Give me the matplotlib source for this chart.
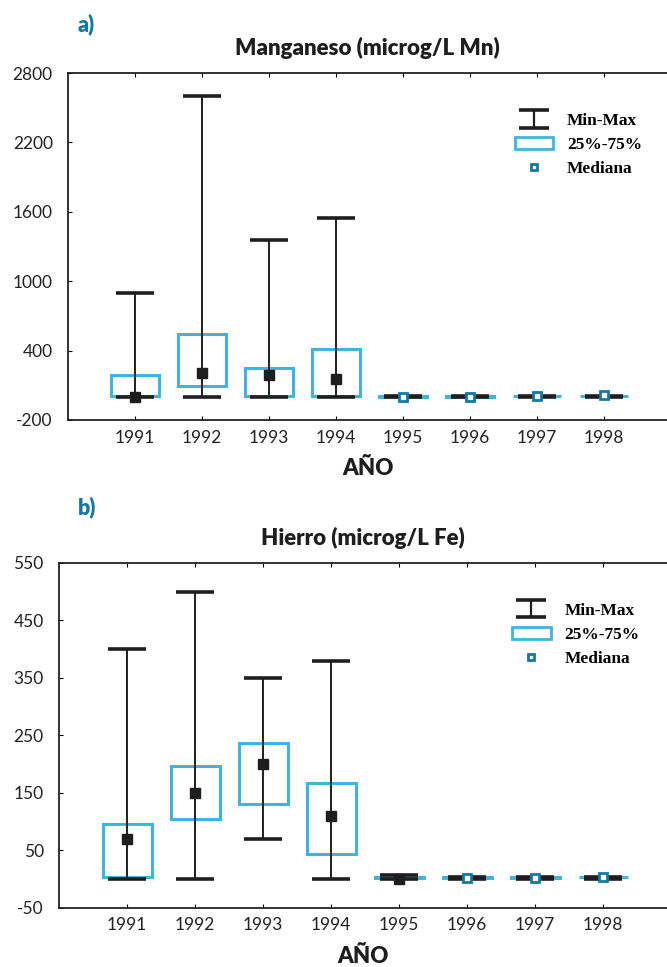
import numpy as np
import matplotlib
matplotlib.use("Agg")
import matplotlib.pyplot as plt
from matplotlib.patches import Rectangle
from matplotlib.lines import Line2D

plt.rcParams["axes.unicode_minus"] = False

years = ["1991", "1992", "1993", "1994", "1995", "1996", "1997", "1998"]

# manganeso (microg/L Mn)
mn_min = [0, 0, 0, 0, 0, 0, 0, 0]
mn_max = [900, 2600, 1360, 1550, 5, 5, 5, 5]
mn_q25 = [5, 90, 5, 5, 2, 2, 3, 3]
mn_q75 = [190, 540, 250, 415, 8, 8, 10, 10]
mn_med = [0, 210, 190, 155, 0, 0, 10, 15]

# hierro (microg/L Fe)
fe_min = [0, 0, 70, 0, 0, 0, 0, 0]
fe_max = [400, 500, 350, 380, 6, 4, 3, 3]
fe_q25 = [4, 104, 130, 44, 1, 2, 2, 3]
fe_q75 = [95, 197, 236, 166, 4, 4, 3, 4]
fe_med = [70, 150, 200, 109, 0, 2, 1, 3]

BOX_C = "#3db5e0"
MED_C = "#1478a3"
LAB_C = "#1577a6"
TICK_FONT = "Lato"

fig = plt.figure(figsize=(6.67, 9.67), dpi=100)
ax1 = fig.add_axes([0.102, 0.5657, 0.898, 0.3588])
ax2 = fig.add_axes([0.0885, 0.0615, 0.9115, 0.3563])


def draw_panel(ax, lo, hi, q25, q75, med, ylim, yticks, title, black_lim):
    x = np.arange(1, len(years) + 1)
    lo = np.array(lo, float)
    hi = np.array(hi, float)
    med = np.array(med, float)
    q25 = np.array(q25, float)
    q75 = np.array(q75, float)

    ax.bar(x, q75 - q25, bottom=q25, width=0.72, fill=False,
           edgecolor=BOX_C, linewidth=2.2, zorder=2)
    mid = (lo + hi) / 2
    ax.errorbar(x, mid, yerr=(hi - lo) / 2, fmt="none",
                ecolor="#1e1e1e", elinewidth=1.4, capsize=14, capthick=2.6,
                zorder=3)
    big = (hi - lo) > black_lim
    ax.plot(x[big], med[big], "s", ms=6.5, mfc="#1e1e1e", mec="#1e1e1e",
            zorder=4)
    ax.plot(x[~big], med[~big], "s", ms=6, mfc="white", mec=MED_C, mew=2,
            zorder=4)

    ax.set_xlim(0, 8.94)
    ax.set_ylim(*ylim)
    ax.set_yticks(yticks)
    ax.set_xticks(x)
    ax.set_xticklabels(years)
    ax.spines["right"].set_visible(False)
    for s in ["left", "top", "bottom"]:
        ax.spines[s].set_linewidth(1.3)
        ax.spines[s].set_color("#222222")
    ax.tick_params(axis="x", direction="in", top=True, length=3,
                   labelsize=12.5, pad=7)
    ax.tick_params(axis="y", direction="in", length=3, labelsize=12.5,
                   pad=11)
    for lab in ax.get_xticklabels() + ax.get_yticklabels():
        lab.set_family(TICK_FONT)
        lab.set_color("#222222")
    ax.set_title(title, fontsize=16, fontweight="heavy", family="Lato",
                 pad=13, color="#1e1e1e")
    ax.set_xlabel("AÑO", fontsize=16, fontweight="heavy", family="Lato",
                  labelpad=9, color="#1e1e1e")

    h_mm = ax.errorbar([np.nan], [np.nan], yerr=[[1], [1]], fmt="none",
                       ecolor="#1e1e1e", elinewidth=1.6, capsize=11,
                       capthick=2.6)
    h_box = Rectangle((0, 0), 1, 1, fill=False, edgecolor=BOX_C, lw=2)
    h_med = Line2D([], [], ls="none", marker="s", ms=5, mfc="white",
                   mec=MED_C, mew=2)
    ax.legend([h_mm, h_box, h_med], ["Min-Max", "25%-75%", "Mediana"],
              loc="upper left", bbox_to_anchor=(0.72, 0.93), frameon=False,
              prop={"family": "Liberation Serif", "weight": "bold",
                    "size": 12.5},
              handlelength=2.2, handletextpad=0.8, labelspacing=0.45)


draw_panel(ax1, mn_min, mn_max, mn_q25, mn_q75, mn_med, (-200, 2800),
           [-200, 400, 1000, 1600, 2200, 2800], "Manganeso (microg/L Mn)", 30)
draw_panel(ax2, fe_min, fe_max, fe_q25, fe_q75, fe_med, (-50, 550),
           [-50, 50, 150, 250, 350, 450, 550], "Hierro (microg/L Fe)", 5)

fig.text(0.116, 0.975, "a)", color=LAB_C, fontsize=15.5, fontweight="heavy",
         family="Lato", va="center")
fig.text(0.117, 0.475, "b)", color=LAB_C, fontsize=15.5, fontweight="heavy",
         family="Lato", va="center")

fig.savefig("out.png", dpi=100)
